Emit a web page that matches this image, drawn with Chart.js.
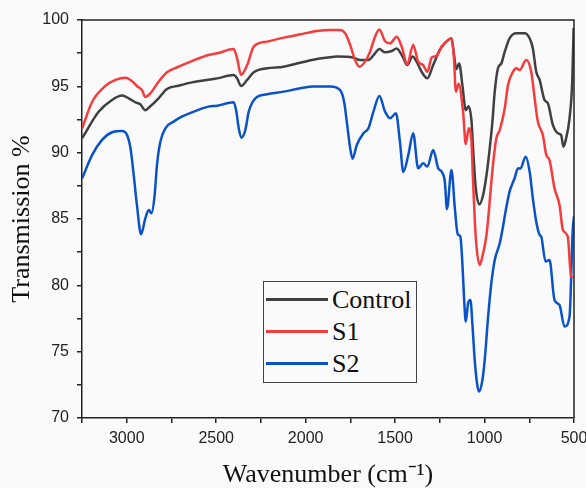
<!DOCTYPE html>
<html lang="en">
<head>
    <meta charset="UTF-8">
    <title>FTIR Transmission</title>
    <script src="https://cdn.jsdelivr.net/npm/chart.js"></script>
    <style>
        body {
            margin: 0;
            background: #fafafa;
        }
        #wrap {
            position: relative;
            width: 586px;
            height: 488px;
        }
        #legend {
            position: absolute;
            left: 263px;
            top: 281px;
            width: 152px;
            height: 100px;
            border: 1px solid #444;
            background: #fafafa;
            font-family: "Liberation Serif", "Times New Roman", serif;
            font-size: 26px;
            color: #111;
        }
        .item {
            position: absolute;
            left: 0;
            height: 30px;
            width: 152px;
        }
        .item .ln {
            position: absolute;
            left: 2px;
            top: 13px;
            width: 62px;
            height: 3px;
        }
        .item span {
            position: absolute;
            left: 68px;
            top: 0;
            line-height: 30px;
        }
    </style>
</head>
<body>
<div id="wrap">
    <canvas id="ftirChart" width="586" height="488"></canvas>
    <div id="legend"></div>
</div>

<script>
    // series names and colours
    const seriesNames = ['Control', 'S1', 'S2'];
    const seriesColors = ['#404040', '#f53b3b', '#0a52c8'];

    // Control: wavenumber (cm-1) and transmission (%)
    const controlWn = [3249, 3156, 3082, 3026, 2989, 2952, 2924, 2896, 2868, 2822, 2775, 2710, 2636, 2543,
        2494, 2402, 2383, 2361, 2327, 2290, 2216, 2123, 2030, 1937, 1863, 1826, 1733, 1696, 1649, 1612,
        1588, 1556, 1519, 1491, 1458, 1432, 1402, 1380, 1352, 1320, 1287, 1250, 1203, 1185, 1170, 1158,
        1142, 1123, 1105, 1090, 1073, 1064, 1049, 1029, 1008, 989, 971, 956, 943, 925, 906, 887, 860,
        822, 776, 748, 730, 711, 692, 665, 646, 618, 590, 572, 559, 544, 525, 510, 502];
    const controlT = [91.1, 93.1, 93.97, 94.3, 94.1, 93.8, 93.65, 93.2, 93.5, 94.1, 94.8, 95.05, 95.3, 95.5,
        95.6, 95.86, 95.6, 95.03, 95.48, 96.06, 96.36, 96.48, 96.78, 97.06, 97.19, 97.24, 97.16, 96.99, 96.99, 97.49,
        97.81, 97.56, 97.66, 97.86, 97.24, 96.6, 97.24, 96.86, 96.1, 95.6, 96.6, 97.74, 98.5, 98.6, 97.3, 96.3,
        96.73, 95.0, 93.2, 93.5, 92.4, 90.33, 87.32, 86.1, 86.81, 88.32, 90.33, 92.34, 94.6, 96.36, 96.73, 97.61, 98.62,
        99.0, 99.0, 98.62, 97.86, 96.1, 95.48, 93.97, 93.72, 92.09, 91.46, 91.33, 90.45, 91.08, 92.59, 95.35, 99.4];

    // S1
    const s1Wn = [3249, 3193, 3119, 3063, 3007, 2979, 2943, 2915, 2896, 2868, 2822, 2775, 2710, 2636, 2543,
        2494, 2402, 2383, 2361, 2327, 2290, 2216, 2123, 2030, 1937, 1863, 1807, 1779, 1751, 1724, 1700,
        1668, 1640, 1612, 1588, 1556, 1528, 1491, 1463, 1432, 1399, 1371, 1343, 1320, 1296, 1268, 1240,
        1203, 1185, 1172, 1160, 1145, 1120, 1105, 1088, 1073, 1064, 1049, 1027, 1010, 989, 953, 934,
        915, 887, 869, 841, 822, 804, 767, 739, 720, 702, 674, 655, 637, 609, 581, 562, 535, 516, 507];
    const s1T = [91.84, 93.84, 95.03, 95.48, 95.65, 95.48, 95.03, 94.72, 94.2, 94.47, 95.35, 96.06, 96.48, 96.9, 97.36,
        97.49, 97.81, 97.11, 95.86, 96.6, 97.99, 98.37, 98.67, 98.92, 99.17, 99.25, 99.25, 99.0, 98.12, 96.99, 96.48,
        96.86, 97.61, 98.74, 99.28, 98.4, 98.24, 98.74, 97.99, 96.66, 98.12, 96.86, 96.6, 96.1, 97.16, 97.3, 98.0,
        98.5, 98.62, 97.36, 94.6, 95.2, 93.09, 90.65, 91.84, 90.83, 87.81, 83.6, 81.54, 82.3, 83.8, 89.07, 91.08,
        91.71, 93.35, 95.1, 96.1, 96.36, 96.23, 96.99, 96.1, 94.1, 92.34, 91.33, 89.83, 89.45, 87.32, 86.06, 84.17, 83.67, 80.66, 80.6];

    // S2
    const s2Wn = [3249, 3193, 3138, 3082, 3026, 2998, 2979, 2961, 2943, 2920, 2896, 2877, 2862, 2844, 2831,
        2812, 2784, 2738, 2692, 2636, 2543, 2494, 2402, 2387, 2374, 2359, 2337, 2318, 2281, 2216, 2123,
        2030, 1956, 1863, 1807, 1785, 1770, 1751, 1738, 1714, 1677, 1649, 1621, 1588, 1556, 1528, 1495,
        1473, 1454, 1426, 1399, 1371, 1343, 1320, 1287, 1259, 1240, 1222, 1210, 1185, 1166, 1150, 1135,
        1123, 1114, 1105, 1092, 1079, 1067, 1055, 1042, 1031, 1012, 999, 980, 962, 943, 915, 897, 878,
        860, 832, 813, 800, 770, 748, 730, 711, 692, 683, 659, 637, 609, 581, 553, 525, 507, 500];
    const s2T = [88.07, 89.83, 90.96, 91.54, 91.64, 91.33, 90.33, 88.32, 86.06, 83.85, 85.05, 85.68, 85.43, 86.8, 89.07,
        90.83, 91.84, 92.34, 92.71, 93.04, 93.47, 93.54, 93.8, 93.09, 91.84, 91.13, 91.71, 93.09, 94.1, 94.4, 94.6,
        94.85, 94.98, 94.98, 94.72, 93.84, 92.34, 90.33, 89.55, 90.58, 91.46, 91.84, 93.09, 94.27, 93.09, 92.59, 92.97,
        90.83, 88.55, 89.83, 91.46, 88.82, 89.2, 88.95, 90.2, 88.82, 88.57, 87.81, 85.75, 88.7, 85.81, 83.85, 83.67,
        81.41, 78.9, 77.27, 78.65, 78.9, 76.89, 74.38, 72.62, 71.99, 72.87, 74.38, 77.64, 80.16, 81.91, 83.17, 84.42, 85.9,
        87.06, 88.07, 88.82, 88.8, 89.7, 88.57, 86.56, 84.8, 83.8, 83.67, 81.79, 81.91, 78.9, 78.52, 76.89, 77.64, 84.17, 85.2];

    // axis ranges / tick steps
    const xMin = 500, xMax = 3250, xStep = 250, xLabelEvery = 500;
    const yMin = 70, yMax = 100, yStep = 2.5, yLabelEvery = 5;

    function toPoints(wn, t) {
        return wn.map((w, i) => ({x: w, y: t[i]}));
    }

    const seriesData = [toPoints(controlWn, controlT), toPoints(s1Wn, s1T), toPoints(s2Wn, s2T)];
    const drawOrder = [1, 0, 2];

    // legend (html)
    const legendDiv = document.getElementById('legend');
    const rowTops = [3, 35, 67];
    seriesNames.forEach((name, i) => {
        const item = document.createElement('div');
        item.className = 'item';
        item.style.top = rowTops[i] + 'px';
        item.innerHTML = '<div class="ln" style="background:' + seriesColors[i] + '"></div><span>' + name + '</span>';
        legendDiv.appendChild(item);
    });

    // box around the plot (top + right)
    const frame = {
        id: 'frame',
        afterDraw(chart) {
            const {ctx, chartArea: a} = chart;
            ctx.save();
            ctx.strokeStyle = '#222';
            ctx.lineWidth = 1.5;
            ctx.beginPath();
            ctx.moveTo(a.left, a.top);
            ctx.lineTo(a.right, a.top);
            ctx.lineTo(a.right, a.bottom);
            ctx.stroke();
            ctx.restore();
        }
    };

    const tickFont = {family: '"Liberation Sans", Arial, sans-serif', size: 16};
    const titleFont = {family: '"Liberation Serif", "Times New Roman", serif', size: 26, lineHeight: 1};

    new Chart(document.getElementById('ftirChart'), {
        type: 'line',
        data: {
            datasets: seriesNames.map((name, i) => ({
                label: name,
                data: seriesData[i],
                borderColor: seriesColors[i],
                borderWidth: 2.5,
                pointRadius: 0,
                cubicInterpolationMode: 'monotone',
                fill: false,
                order: drawOrder[i]
            }))
        },
        options: {
            responsive: false,
            animation: false,
            layout: {padding: {top: 20, right: 0, left: 0, bottom: 0}},
            plugins: {
                legend: {display: false},
                tooltip: {enabled: false}
            },
            scales: {
                x: {
                    type: 'linear',
                    reverse: true,
                    min: xMin,
                    max: xMax,
                    grid: {drawOnChartArea: false, tickLength: 5, color: '#222', lineWidth: 1.5},
                    border: {display: true, color: '#222', width: 1.5},
                    ticks: {
                        stepSize: xStep,
                        autoSkip: false,
                        maxRotation: 0,
                        padding: 6,
                        color: '#222',
                        font: tickFont,
                        callback: v => (v % xLabelEvery === 0 ? v : '')
                    },
                    title: {display: true, text: 'Wavenumber (cm⁻¹)', color: '#111', font: titleFont, padding: {top: 0, bottom: 0}},
                    afterFit(scale) {
                        scale.height = 70;
                        scale.paddingRight = 12;
                        scale.paddingLeft = 0;
                    }
                },
                y: {
                    min: yMin,
                    max: yMax,
                    grid: {drawOnChartArea: false, tickLength: 5, color: '#222', lineWidth: 1.5},
                    border: {display: true, color: '#222', width: 1.5},
                    ticks: {
                        stepSize: yStep,
                        autoSkip: false,
                        padding: 8,
                        color: '#222',
                        font: tickFont,
                        callback: v => (v % yLabelEvery === 0 ? v : '')
                    },
                    title: {display: true, text: 'Transmission %', color: '#111', font: titleFont, padding: {top: 9, bottom: 0}},
                    afterFit(scale) {
                        scale.width = 82;
                        scale.paddingTop = 0;
                        scale.paddingBottom = 0;
                    }
                }
            }
        },
        plugins: [frame]
    });
</script>
</body>
</html>
